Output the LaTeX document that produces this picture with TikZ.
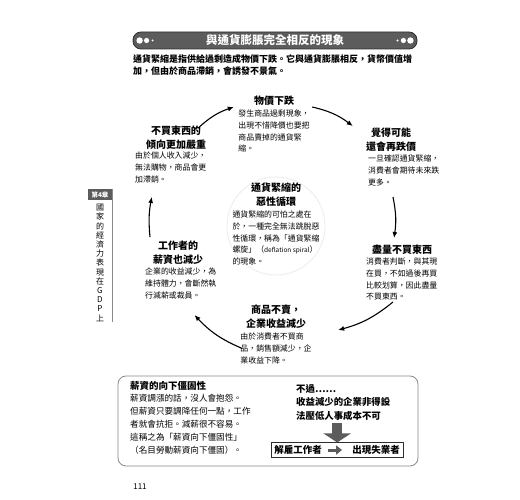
\documentclass[tikz,border=0pt]{standalone}
\usepackage{fontspec}
\setmainfont{Noto Sans CJK TC}
\usepackage{xcolor}
\definecolor{inkgray}{HTML}{2E2E2E}
\definecolor{bargray}{HTML}{5C5C5C}
\definecolor{framegray}{HTML}{8A8A8A}
\usetikzlibrary{positioning,arrows.meta,fit}

\begin{document}
\begin{tikzpicture}[x=1pt, y=1pt,
    banner/.style={fill=bargray, draw=inkgray, line width=0.8pt, rounded corners=8pt,
                   minimum width=284pt, minimum height=17pt, inner sep=0pt,
                   text=white, font=\bfseries\fontsize{11.5}{12}\selectfont},
    headtxt/.style={font=\bfseries\fontsize{10}{14}\selectfont, align=center, inner sep=1pt},
    bodytxt/.style={font=\fontsize{7.9}{11.6}\selectfont, align=left, inner sep=0pt},
    notetxt/.style={font=\fontsize{8.6}{13}\selectfont, align=left, inner sep=0pt},
    cyc/.style={draw=black, line width=1.1pt, -{Latex[length=6pt,width=5pt]}},
    chapbox/.style={fill=bargray, text=white, font=\bfseries\fontsize{6.5}{7}\selectfont,
                    minimum width=24pt, minimum height=11pt, inner sep=0pt}]
  \fill[white] (0,0) rectangle (520,-500);
  \useasboundingbox (0,0) rectangle (520,-500);

  % title bar and lead text
  \node[banner] (title) at (275,-40.5) {與通貨膨脹完全相反的現象};
  \foreach \dx/\r in {7/3.2, 14/2.6, 20/1.1} {
    \fill[white] ([xshift=\dx pt]title.west) circle (\r);
    \fill[white] ([xshift=-\dx pt]title.east) circle (\r);
  }
  \node[font=\bfseries\fontsize{9}{12.5}\selectfont, align=left, inner sep=0pt, anchor=north west]
    (lead) at (133,-54) {通貨緊縮是指供給過剩造成物價下跌。它與通貨膨脹相反，貨幣價值增\\加，但由於商品滯銷，會誘發不景氣。};

  % chapter tab
  \node[chapbox] (chap) at (100,-194.5) {第4章};
  \node[font=\fontsize{8}{9.2}\selectfont, align=center, inner sep=0pt, below=4pt of chap]
    (chaptitle) {國\\家\\的\\經\\濟\\力\\表\\現\\在\\G\\D\\P\\上};
  \draw[framegray, line width=0.5pt] (chap.north east) -- (chap.north east |- chaptitle.south);

  % the spiral: heads and texts
  \node[headtxt] (pricehead) at (274,-101) {物價下跌};
  \node[bodytxt, below=3pt of pricehead] (pricebody)
    {發生商品過剩現象，\\出現不惜降價也要把\\商品賣掉的通貨緊\\縮。};

  \node[headtxt] (expecthead) at (391,-140) {覺得可能\\還會再跌價};
  \node[bodytxt, anchor=north west] (expectbody) at (368,-155)
    {一旦確認通貨緊縮，\\消費者會期待未來跌\\更多。};

  \node[headtxt] (nobuyhead) at (402,-250) {盡量不買東西};
  \node[bodytxt, anchor=north west] (nobuybody) at (366,-258)
    {消費者判斷，與其現\\在買，不如過後再買\\比較划算，因此盡量\\不買東西。};

  \node[headtxt] (salehead) at (276,-317) {商品不賣，\\企業收益減少};
  \node[bodytxt, below=3pt of salehead] (salebody)
    {由於消費者不買商\\品，銷售額減少，企\\業收益下降。};

  \node[headtxt] (wagehead) at (178,-253) {工作者的\\薪資也減少};
  \node[bodytxt, anchor=north west] (wagebody) at (145,-268)
    {企業的收益減少，為\\維持體力，會斷然執\\行減薪或裁員。};

  \node[headtxt] (worsehead) at (176,-138) {不買東西的\\傾向更加嚴重};
  \node[bodytxt, anchor=north west] (worsebody) at (135,-152)
    {由於個人收入減少，\\無法購物，商品會更\\加滯銷。};

  \draw[gray!15, line width=0.8pt] (276,-226) circle (49);
  \node[headtxt] (spiralhead) at (276,-195) {通貨緊縮的\\惡性循環};
  \node[bodytxt, below=3pt of spiralhead] (spiralbody)
    {通貨緊縮的可怕之處在\\於，一種完全無法跳脫惡\\性循環，稱為「通貨緊縮\\螺旋」（{\fontsize{6.5}{7}\selectfont deflation spiral}）\\的現象。};

  % cycle arrows
  \draw[cyc] ([shift={(-9,-3)}]worsehead.north east) to[bend left=12] ([shift={(-19,-6)}]pricehead.west);
  \draw[cyc] ([shift={(17,-6)}]pricehead.east) to[bend left=12] ([shift={(-12,1)}]expecthead.north west);
  \draw[cyc] ([shift={(-9,47)}]nobuyhead.north) to[bend left=10] ([shift={(-8,6)}]nobuyhead.north);
  \draw[cyc] ([shift={(-9,-46)}]nobuyhead.south) to[bend left=12] ([shift={(31,-13)}]salehead.east);
  \draw[cyc] ([shift={(2,0)}]salebody.west) to[bend left=12] ([shift={(-22,-16)}]wagebody.south east);
  \draw[cyc] ([shift={(-28,3)}]wagehead.north) to[bend left=8] ([shift={(-19,-14)}]worsebody.south);

  % note box at the bottom
  \node[draw=framegray, line width=0.8pt, rounded corners=8pt, minimum width=300pt,
        minimum height=90pt] (notebox) at (268,-421) {};
  \node[font=\bfseries\fontsize{9.5}{12}\selectfont, anchor=west, inner sep=0pt]
    (rigidhead) at (130,-386) {薪資的向下僵固性};
  \node[notetxt, anchor=north west] (rigidbody) at (130,-394)
    {薪資調漲的話，沒人會抱怨。\\但薪資只要調降任何一點，工作\\者就會抗拒。減薪很不容易。\\這稱之為「薪資向下僵固性」\\（名目勞動薪資向下僵固）。};

  \node[font=\bfseries\fontsize{9.4}{13.5}\selectfont, align=left, inner sep=0pt, anchor=north west]
    (costtxt) at (296,-384) {不過……\\收益減少的企業非得設\\法壓低人事成本不可};
  \node[font=\bfseries\fontsize{9.5}{11}\selectfont, inner sep=1pt] (fire) at (298,-450) {解雇工作者};
  \node[font=\bfseries\fontsize{9.5}{11}\selectfont, inner sep=1pt] (jobless) at (376,-450) {出現失業者};
  \node[draw=inkgray, line width=0.6pt, fit=(fire)(jobless), inner xsep=2pt, inner ysep=1.5pt] (firebox) {};
  \draw[bargray, line width=10pt, -{Triangle[length=9pt,width=27pt]}]
    ([xshift=-6pt,yshift=-3pt]costtxt.south) -- ([xshift=-6pt]costtxt.south |- firebox.north);
  \draw[bargray, line width=3pt, -{Triangle[length=6pt,width=9pt]}, shorten <=5pt, shorten >=9pt]
    (fire) -- (jobless);

  \node[font=\fontsize{8}{9}\selectfont] (pageno) at (140,-487) {111};
\end{tikzpicture}
\end{document}
